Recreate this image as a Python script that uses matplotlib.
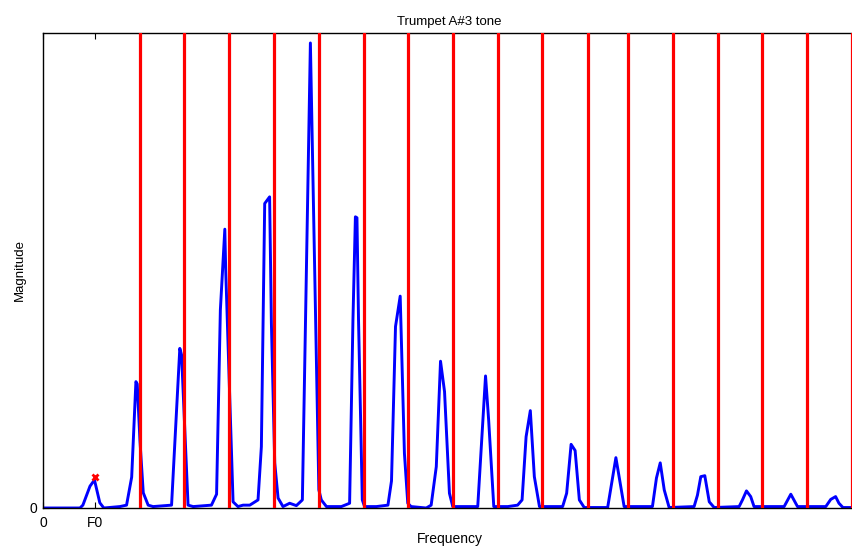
""" Trumpet A#3 spectrum with harmonic band limits """
import numpy as np
from matplotlib import pyplot as plt

plt.rcParams['font.family'] = ['Liberation Sans', 'DejaVu Sans']

# spectrum vertices (Hz, normalised magnitude)
freq_hz = [0, 166, 179, 211, 231, 255, 273, 345, 375, 398, 417, 423, 435, 450, 472, 494,
           577, 614, 622, 651, 674, 756, 779, 796, 816, 820, 838, 853, 875, 898, 928,
           965, 980, 995, 1017, 1025, 1040, 1055, 1077, 1107, 1137, 1164, 1200, 1238,
           1249, 1272, 1339, 1376, 1391, 1402, 1409, 1416, 1433, 1443, 1496, 1548, 1564,
           1582, 1603, 1622, 1637, 1652, 1720, 1742, 1765, 1784, 1802, 1824, 1839, 1951,
           1986, 2000, 2023, 2086, 2130, 2150, 2168, 2187, 2205, 2228, 2332, 2350, 2370,
           2388, 2407, 2429, 2534, 2571, 2608, 2735, 2753, 2770, 2788, 2810, 2922, 2937,
           2952, 2970, 2990, 3012, 3124, 3139, 3157, 3176, 3191, 3326, 3356, 3386, 3513,
           3535, 3557, 3572, 3590, 3650]
magnitude = [0, 0, 0.006, 0.046, 0.059, 0.011, 0, 0.003, 0.006, 0.065, 0.266, 0.261,
             0.143, 0.032, 0.006, 0.003, 0.006, 0.336, 0.322, 0.006, 0.003, 0.006, 0.029,
             0.417, 0.587, 0.501, 0.234, 0.013, 0.003, 0.006, 0.006, 0.017, 0.129, 0.641,
             0.655, 0.389, 0.095, 0.021, 0.003, 0.010, 0.005, 0.017, 0.979, 0.038, 0.017,
             0.003, 0.003, 0.010, 0.396, 0.613, 0.611, 0.396, 0.017, 0.003, 0.003, 0.006,
             0.057, 0.382, 0.446, 0.115, 0.010, 0.003, 0, 0.006, 0.087, 0.309, 0.245, 0.031,
             0.003, 0.003, 0.278, 0.185, 0.003, 0.003, 0.006, 0.017, 0.150, 0.205, 0.066,
             0.003, 0.003, 0.031, 0.134, 0.121, 0.017, 0.001, 0.001, 0.106, 0.003, 0.003,
             0.063, 0.095, 0.038, 0.001, 0.003, 0.027, 0.066, 0.068, 0.013, 0.001, 0.003,
             0.017, 0.036, 0.024, 0.003, 0.003, 0.029, 0.003, 0.003, 0.018, 0.024, 0.010,
             0.001, 0.001]

# band limits between harmonics (Hz)
band_limits = [435, 633, 835, 1035, 1238, 1439, 1639, 1839, 2041, 2241, 2444, 2625,
               2827, 3027, 3228, 3430, 3629]

f0_hz = 233
f0_mag = 0.065

fig = plt.figure(figsize=(8.53, 5.48), dpi=100)
ax = fig.add_axes([0.0504, 0.073, 0.9535, 0.8668])

ax.plot(freq_hz, magnitude, color='blue', linewidth=2.1, zorder=2)
for f in band_limits:
    ax.axvline(f, color='red', linewidth=2.3, zorder=3)
ax.plot([f0_hz], [f0_mag], 'x', color='red', markersize=5, markeredgewidth=2, zorder=4)

ax.set_xlim(0, 3650)
ax.set_ylim(0, 1)
ax.set_xticks([0, f0_hz])
ax.set_xticklabels(['0', 'F0'])
ax.set_yticks([0])
ax.tick_params(direction='in', top=True, right=True, length=4, labelsize=10)
ax.tick_params(axis='x', pad=6)
ax.tick_params(axis='y', pad=4)
for side in ('left', 'bottom', 'top', 'right'):
    ax.spines[side].set_linewidth(1.0)

ax.set_title('Trumpet A#3 tone', fontsize=9.5, pad=6)
ax.set_xlabel('Frequency', fontsize=10, labelpad=1)
ax.set_ylabel('Magnitude', fontsize=9.5, labelpad=3)

plt.savefig('out.png', dpi=100)
